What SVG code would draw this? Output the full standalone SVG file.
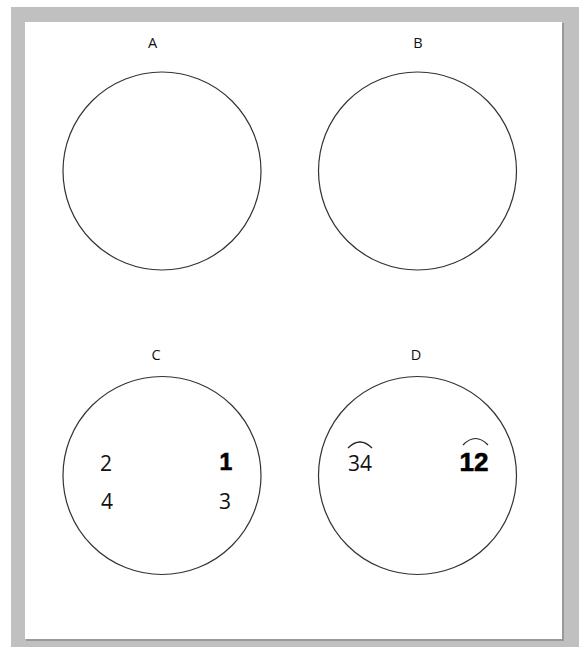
<svg xmlns="http://www.w3.org/2000/svg" width="579" height="647" viewBox="0 0 579 647">
  <style>
    .ring { fill: none; stroke: #333; stroke-width: 1.2; }
    .lbl { font-family: "Open Sans", "Liberation Sans", sans-serif; font-size: 14.5px; fill: #111; text-anchor: middle; }
    .num { font-family: "Open Sans", "Liberation Sans", sans-serif; font-size: 21px; fill: #111; text-anchor: middle; }
    .bnum { font-family: "Liberation Sans", Arial, sans-serif; font-weight: bold; fill: #000; text-anchor: middle; stroke: #000; stroke-width: 0.6; }
    .arc { fill: none; stroke: #222; stroke-width: 1.2; }
  </style>
  <rect x="0" y="0" width="579" height="647" fill="#ffffff"/>
  <rect x="11" y="7" width="568" height="640" fill="#c0c0c0"/>
  <rect x="26" y="23" width="538" height="618" fill="#999999"/>
  <rect x="25" y="22" width="537" height="617" fill="#ffffff"/>

  <g id="nodeA">
    <text class="lbl" x="152.5" y="48">A</text>
    <circle class="ring" cx="162" cy="171" r="99"/>
  </g>
  <g id="nodeB">
    <text class="lbl" x="418" y="48">B</text>
    <circle class="ring" cx="417.5" cy="171" r="99"/>
  </g>
  <g id="nodeC">
    <text class="lbl" x="156" y="360">C</text>
    <circle class="ring" cx="162" cy="475.5" r="99"/>
    <text class="num" x="106" y="471">2</text>
    <text class="bnum" x="226" y="470" font-size="23">1</text>
    <text class="num" x="107" y="509">4</text>
    <text class="num" x="225" y="509">3</text>
  </g>
  <g id="nodeD">
    <text class="lbl" x="416" y="360">D</text>
    <circle class="ring" cx="417.5" cy="475.5" r="99"/>
    <text class="num" x="360" y="471">34</text>
    <path class="arc" d="M348 448 Q360 436 372 448"/>
    <text class="bnum" x="474" y="471" font-size="26">12</text>
    <path class="arc" d="M463 445 Q475.5 432 488 445"/>
  </g>
</svg>
